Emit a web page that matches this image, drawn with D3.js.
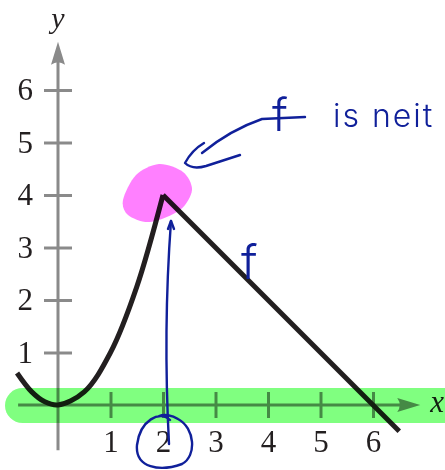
<!DOCTYPE html>
<html><head><meta charset="utf-8">
<script src="https://cdn.jsdelivr.net/npm/d3@7"></script>
<style>body{margin:0;background:#fff}svg{display:block}</style>
</head><body>
<svg id="chart" width="445" height="470"></svg>
<script>
// Tick values on both axes
const xTicks = [1, 2, 3, 4, 5, 6];
const yTicks = [1, 2, 3, 4, 5, 6];
// Curved piece of f, from the left edge up to the corner at (2, 4)
const curvePoints = [[-0.78, 0.61], [-0.5, 0.25], [-0.25, 0.06], [0, 0], [0.5, 0.25], [1, 1], [1.5, 2.25], [2, 4]];
// Straight piece of f, from the corner down past the x-axis
const linePoints = [[2, 4], [6.5, -0.5]];
// The corner point, marked with a highlighter blob
const corner = [2, 4];
// Axis extents (arrow tips)
const xAxisExtent = [-0.76, 6.9];
const yAxisExtent = [-0.86, 6.92];

const svg = d3.select("#chart");
const x = d3.scaleLinear().domain([0, 6]).range([58, 373]);
const y = d3.scaleLinear().domain([0, 6]).range([405, 90]);

const axisGray = "#8a8a8a";
const ink = "#231f20";
const pen = "#10209a";
const serif = "'Liberation Serif', 'DejaVu Serif', serif";

// x-axis
svg.append("line")
  .attr("x1", x(xAxisExtent[0])).attr("x2", x(xAxisExtent[1]) - 8)
  .attr("y1", y(0)).attr("y2", y(0))
  .attr("stroke", axisGray).attr("stroke-width", 3);
const xt = x(xAxisExtent[1]), y0 = y(0);
svg.append("path")
  .attr("d", `M${xt},${y0} L${xt - 23},${y0 - 7} Q${xt - 18},${y0} ${xt - 23},${y0 + 7} Z`)
  .attr("fill", axisGray);

const gx = svg.append("g")
  .attr("transform", `translate(0,${y(0) - 13})`)
  .call(d3.axisBottom(x).tickValues(xTicks).tickSize(26).tickPadding(12).tickFormat(d3.format("d")));
gx.select(".domain").remove();
gx.selectAll(".tick line").attr("stroke", axisGray).attr("stroke-width", 3);
gx.selectAll(".tick text").attr("fill", ink).style("font-family", serif).style("font-size", "31px");

// y-axis
svg.append("line")
  .attr("x1", x(0)).attr("x2", x(0))
  .attr("y1", y(yAxisExtent[0])).attr("y2", y(yAxisExtent[1]) + 8)
  .attr("stroke", axisGray).attr("stroke-width", 3);
const yt = y(yAxisExtent[1]), x0 = x(0);
svg.append("path")
  .attr("d", `M${x0},${yt} L${x0 + 7},${yt + 23} Q${x0},${yt + 18} ${x0 - 7},${yt + 23} Z`)
  .attr("fill", axisGray);

const gy = svg.append("g")
  .attr("transform", `translate(${x(0) + 14},0)`)
  .call(d3.axisLeft(y).tickValues(yTicks).tickSize(28).tickPadding(11).tickFormat(d3.format("d")));
gy.select(".domain").remove();
gy.selectAll(".tick line").attr("stroke", axisGray).attr("stroke-width", 3);
gy.selectAll(".tick text").attr("fill", ink).style("font-family", serif).style("font-size", "31px");

// Axis names
svg.append("text").attr("x", x(xAxisExtent[1]) + 10).attr("y", y(0) + 7)
  .text("x").attr("fill", ink).style("font-family", serif).style("font-style", "italic").style("font-size", "31px");
svg.append("text").attr("x", x(0)).attr("y", 28).attr("text-anchor", "middle")
  .text("y").attr("fill", ink).style("font-family", serif).style("font-style", "italic").style("font-size", "30px");

// The function f
const line = d3.line().x(d => x(d[0])).y(d => y(d[1]));
svg.append("path")
  .attr("d", line.curve(d3.curveCatmullRom)(curvePoints))
  .attr("fill", "none").attr("stroke", ink).attr("stroke-width", 5);
svg.append("path")
  .attr("d", d3.line().x(d => x(d[0])).y(d => y(d[1]))(linePoints))
  .attr("fill", "none").attr("stroke", ink).attr("stroke-width", 5).attr("stroke-linecap", "butt");

// Green highlighter along the x-axis
svg.append("rect")
  .attr("x", 5).attr("y", y(0) - 17).attr("width", 480).attr("height", 35).attr("rx", 17.5)
  .attr("fill", "#80ff80").style("mix-blend-mode", "multiply");

// Pink highlighter blob at the corner
const cx = x(corner[0]) - 6, cy = y(corner[1]) - 2;
const blob = [[-34, 7], [-21, -18], [2, -29], [26, -21], [35, -3], [23, 17], [-7, 29], [-29, 22]];
svg.append("path")
  .attr("d", d3.line().curve(d3.curveCardinalClosed.tension(0.1))(blob.map(p => [cx + p[0], cy + p[1]])))
  .attr("fill", "#ff80ff").style("mix-blend-mode", "multiply");

// Pen annotations
const penG = svg.append("g").attr("fill", "none").attr("stroke", pen)
  .attr("stroke-width", 2.4).attr("stroke-linecap", "round").attr("stroke-linejoin", "round");
// arrow from the note to the corner
penG.append("path").attr("d", "M305,117 L262,119 Q230,130 202,153");
penG.append("path").attr("d", "M204,143 Q192,150 185,163 Q192,170 206,166 L240,155");
// vertical arrow from the tick label up to the corner
penG.append("path").attr("d", "M169,444 Q163,330 171,221");
penG.append("path").attr("d", "M168,229 L171,221 L174,229");
// loop around the label 2
penG.append("path").attr("d", "M170,420 C160,410 140,420 137,445 C135,468 160,472 182,464 C197,456 195,428 178,419 C172,415 164,414 159,416");

const hand = "Inter, 'DejaVu Sans', sans-serif";
svg.append("text").attr("x", 272).attr("y", 131).text("f")
  .attr("fill", pen).style("font-family", hand).style("font-weight", 300).style("font-size", "46px");
svg.append("text").attr("x", 333).attr("y", 127).text("is neit")
  .attr("fill", pen).style("font-family", hand).style("font-weight", 300).style("font-size", "32px")
  .style("letter-spacing", "2px");
svg.append("text").attr("x", 241).attr("y", 279).text("f")
  .attr("fill", pen).style("font-family", hand).style("font-weight", 300).style("font-size", "48px");
</script>
</body></html>
